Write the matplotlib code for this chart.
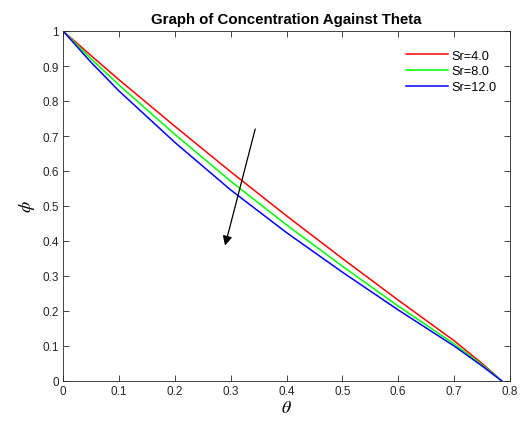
import numpy as np
import matplotlib
matplotlib.use("Agg")
import matplotlib.pyplot as plt

theta = [0.0, 0.05, 0.1, 0.2, 0.3, 0.4, 0.5, 0.6, 0.7, 0.75, 0.7854]
phi_sr4 = [1.0, 0.930, 0.861, 0.728, 0.598, 0.472, 0.350, 0.231, 0.115, 0.050, 0.0]
phi_sr8 = [1.0, 0.921, 0.846, 0.705, 0.571, 0.446, 0.328, 0.214, 0.106, 0.046, 0.0]
phi_sr12 = [1.0, 0.911, 0.829, 0.682, 0.546, 0.424, 0.311, 0.203, 0.100, 0.043, 0.0]
labels = ["Sr=4.0", "Sr=8.0", "Sr=12.0"]
colors = ["#ff0000", "#00ff00", "#0000ff"]
xticks = [0, 0.1, 0.2, 0.3, 0.4, 0.5, 0.6, 0.7, 0.8]
yticks = [0, 0.1, 0.2, 0.3, 0.4, 0.5, 0.6, 0.7, 0.8, 0.9, 1]
arrow_tail = (0.344, 0.72)
arrow_head = (0.290, 0.387)

plt.rcParams['font.family'] = ['Liberation Sans', 'DejaVu Sans']
plt.rcParams['mathtext.fontset'] = 'stix'

fig = plt.figure(figsize=(5.23, 4.27), dpi=100)
ax = fig.add_axes([63/523, 1-382/427, (510-63)/523, (382-32)/427])

for y, lab, c in zip([phi_sr4, phi_sr8, phi_sr12], labels, colors):
    ax.plot(theta, y, color=c, lw=1.1, label=lab)

ax.annotate("", xy=arrow_head, xytext=arrow_tail,
            arrowprops=dict(arrowstyle="-|>", color="black", lw=0.9,
                            mutation_scale=14, shrinkA=0, shrinkB=0))

ax.set_xlim(0, 0.8)
ax.set_ylim(0, 1)
ax.set_xticks(xticks)
ax.set_yticks(yticks)
ax.set_xticklabels([f"{v:g}" for v in xticks])
ax.set_yticklabels([f"{v:g}" for v in yticks])
ax.tick_params(direction='in', top=True, right=True, length=4, width=0.6,
               labelsize=8.5, colors='#262626', pad=3)
for s in ax.spines.values():
    s.set_linewidth(0.6)
    s.set_color('#262626')

ax.set_title("Graph of Concentration Against Theta", fontsize=10.8,
             fontweight='bold', pad=6)
ax.set_xlabel(r"$\theta$", fontsize=13, labelpad=1)
ax.set_ylabel(r"$\phi$", fontsize=13, labelpad=4)

leg = ax.legend(loc='upper right', frameon=False, fontsize=9.2,
                handlelength=3.3, handletextpad=0.25, labelspacing=0.3,
                bbox_to_anchor=(0.995, 0.98))

fig.savefig("out.png", dpi=100)
